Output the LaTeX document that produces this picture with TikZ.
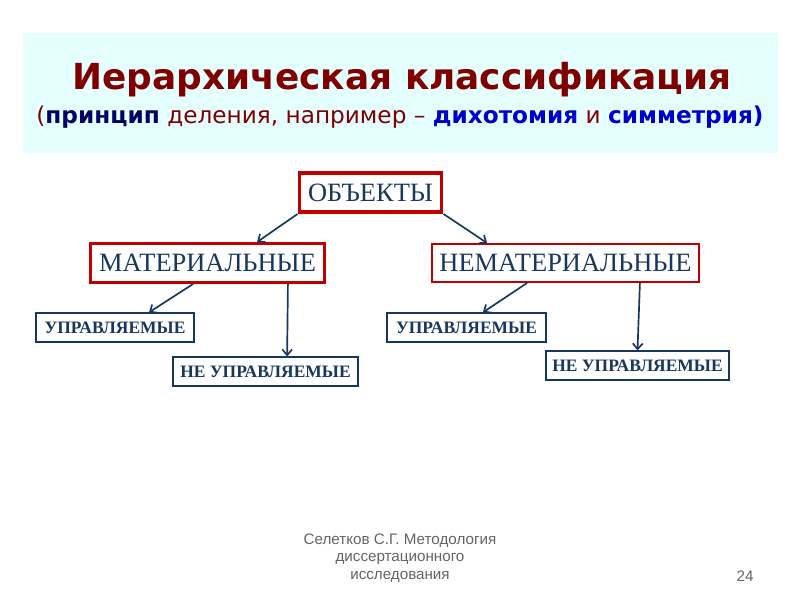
\documentclass[tikz,border=0pt]{standalone}
\usepackage{fontspec}
\setmainfont{Liberation Serif}
\newfontfamily\titlefont{DejaVu Sans}
\newfontfamily\footfont{Liberation Sans}
\usepackage{tikz}
\usetikzlibrary{arrows,arrows.meta,shapes,positioning,calc}
\definecolor{redbox}{RGB}{192,0,0}
\definecolor{navytext}{RGB}{23,55,94}
\definecolor{titlered}{RGB}{128,0,0}
\definecolor{darknavy}{RGB}{0,0,102}
\definecolor{brightblue}{RGB}{0,0,204}
\definecolor{lightcyan}{RGB}{229,255,255}
\definecolor{footgray}{RGB}{100,100,100}

\begin{document}
\begin{tikzpicture}[x=0.025cm,y=-0.025cm,
  mynodeo/.style={draw=redbox,line width=2.8pt,fill=white,text=navytext,align=center,
    minimum width=3.55cm,minimum height=0.975cm,inner sep=0pt,font=\fontsize{18.8}{20}\selectfont},
  mynodem/.style={draw=redbox,line width=2.1pt,fill=white,text=navytext,align=center,
    minimum width=5.825cm,minimum height=0.975cm,inner sep=0pt,font=\fontsize{18.8}{20}\selectfont},
  mynoden/.style={draw=redbox,line width=1.4pt,fill=white,text=navytext,align=center,
    minimum width=6.675cm,minimum height=0.95cm,inner sep=0pt,font=\fontsize{18.8}{20}\selectfont},
  mynodes/.style={draw=navytext,line width=0.9pt,fill=white,text=navytext,align=center,
    minimum height=0.725cm,inner sep=0pt,font=\bfseries\fontsize{12.4}{14}\selectfont},
  myarrow/.style={-{Straight Barb[length=4pt,width=7pt]},draw=navytext,line width=1.2pt},
 ]
\useasboundingbox (0,0) rectangle (800,600);

% title
\fill[lightcyan] (23,33) rectangle (778,153);
\node[font=\titlefont\bfseries\fontsize{25.5}{28}\selectfont,text=titlered] (T) at (402,80) {Иерархическая классификация};
\node[font=\titlefont\fontsize{16.5}{20}\selectfont,text=titlered] (S) at (400,117)
 {(\textcolor{darknavy}{\bfseries принцип} деления, например – \textcolor{brightblue}{\bfseries дихотомия} и \textcolor{brightblue}{\bfseries симметрия)}};

% tree
\node[mynodeo] (O) at (370.5,192.5) {ОБЪЕКТЫ};
\node[mynodem] (M) at (207.5,263) {МАТЕРИАЛЬНЫЕ};
\node[mynoden] (N) at (565.5,263) {НЕМАТЕРИАЛЬНЫЕ};

\node[mynodes,minimum width=3.95cm] (MU) at (115,327.5) {УПРАВЛЯЕМЫЕ};
\node[mynodes,minimum width=4.625cm] (MN) at (265.5,371.5) {НЕ УПРАВЛЯЕМЫЕ};
\node[mynodes,minimum width=3.975cm] (NU) at (466.5,327.5) {УПРАВЛЯЕМЫЕ};
\node[mynodes,minimum width=4.575cm] (NN) at (637.5,365.5) {НЕ УПРАВЛЯЕМЫЕ};

\draw[myarrow] (O.south west) -- ([xshift=1.24cm]M.north);
\draw[myarrow] (O.south east) -- ([xshift=-1.96cm]N.north);
\draw[myarrow] ([xshift=-0.36cm]M.south) -- ([xshift=0.85cm]MU.north);
\draw[myarrow] ([xshift=2.01cm]M.south) -- ([xshift=0.54cm]MN.north);
\draw[myarrow] ([xshift=-0.96cm]N.south) -- ([xshift=0.41cm]NU.north);
\draw[myarrow] ([xshift=1.86cm]N.south) -- (NN.north);

% footer
\node[font=\footfont\fontsize{10.8}{12.5}\selectfont,text=footgray,align=center] (F) at (400,558)
 {Селетков С.Г. Методология\\диссертационного\\исследования};
\node[font=\footfont\fontsize{10.8}{12}\selectfont,text=footgray] (P) at (745,576) {24};

\end{tikzpicture}
\end{document}
